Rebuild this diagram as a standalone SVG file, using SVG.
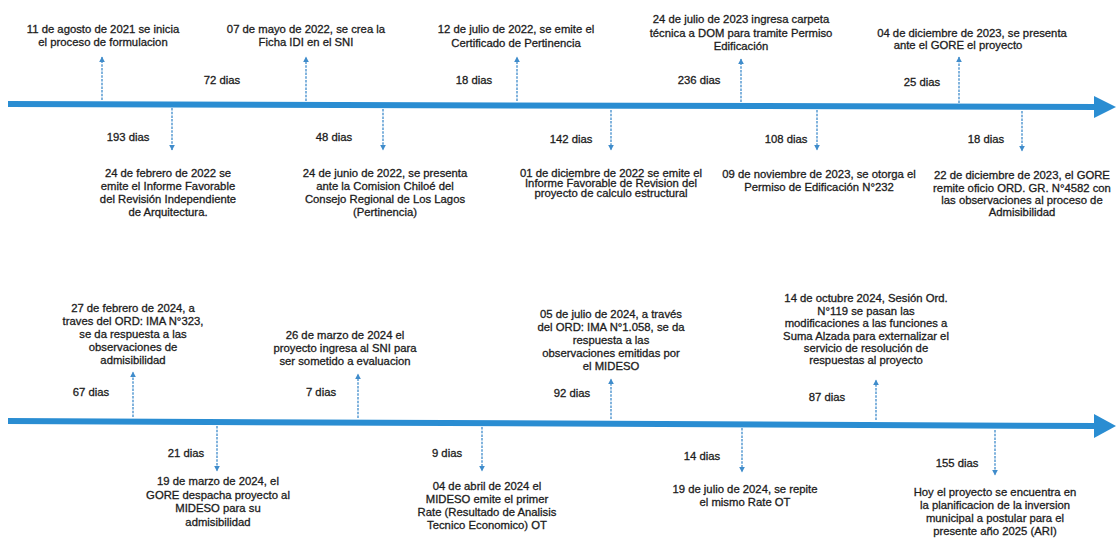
<svg xmlns="http://www.w3.org/2000/svg" width="1117" height="538" viewBox="0 0 1117 538">
<style>
  .t { font-family: "Liberation Sans", Arial, sans-serif; font-size: 11.3px; fill: #1c1c1c; stroke: #1c1c1c; stroke-width: 0.3; text-anchor: middle; }
  .d { font-family: "Liberation Sans", Arial, sans-serif; font-size: 11.3px; fill: #1c1c1c; stroke: #1c1c1c; stroke-width: 0.3; text-anchor: middle; }
  .axis { stroke: #2a8dd2; stroke-width: 6; fill: none; }
  .head { fill: #2a8dd2; }
  .c { stroke: #3f8ccb; stroke-width: 1.3; stroke-dasharray: 2.5 1.2; fill: none; marker-end: url(#ah); }
</style>
<defs>
  <marker id="ah" viewBox="0 0 10 10" refX="9" refY="5" markerWidth="6" markerHeight="7" markerUnits="userSpaceOnUse" orient="auto">
    <path d="M0,0 L10,5 L0,10 Z" fill="#3f8ccb"/>
  </marker>
</defs>
<rect width="1117" height="538" fill="#ffffff"/>

<g id="timeline-1">
  <path class="axis" d="M8,104 L1097,107"/>
  <polygon class="head" points="1094,96 1116,107 1094,118"/>
</g>
<g id="timeline-2">
  <path class="axis" d="M8,421 L1097,426"/>
  <polygon class="head" points="1094,414 1116,426 1094,438"/>
</g>

<g id="connectors">
  <line class="c" x1="102" y1="100" x2="102" y2="57"/>
  <line class="c" x1="306" y1="101" x2="306" y2="57"/>
  <line class="c" x1="517" y1="101" x2="517" y2="57"/>
  <line class="c" x1="741" y1="102" x2="741" y2="59"/>
  <line class="c" x1="959" y1="103" x2="959" y2="57"/>
  <line class="c" x1="172" y1="108" x2="172" y2="150"/>
  <line class="c" x1="383" y1="109" x2="383" y2="150"/>
  <line class="c" x1="611" y1="110" x2="611" y2="150"/>
  <line class="c" x1="817" y1="110" x2="817" y2="150"/>
  <line class="c" x1="1022" y1="111" x2="1022" y2="151"/>
  <line class="c" x1="133" y1="417" x2="133" y2="372"/>
  <line class="c" x1="358" y1="418" x2="358" y2="374"/>
  <line class="c" x1="611" y1="419" x2="611" y2="379"/>
  <line class="c" x1="876" y1="420" x2="876" y2="380"/>
  <line class="c" x1="217" y1="426" x2="217" y2="471"/>
  <line class="c" x1="482" y1="427" x2="482" y2="471"/>
  <line class="c" x1="742" y1="428" x2="742" y2="472"/>
  <line class="c" x1="995" y1="430" x2="995" y2="475"/>
</g>

<g id="durations">
  <text class="d" x="222" y="84">72 dias</text>
  <text class="d" x="474" y="84">18 dias</text>
  <text class="d" x="699" y="84">236 dias</text>
  <text class="d" x="922" y="86">25 dias</text>
  <text class="d" x="128" y="141">193 dias</text>
  <text class="d" x="334" y="141">48 dias</text>
  <text class="d" x="571" y="143">142 dias</text>
  <text class="d" x="786" y="143">108 dias</text>
  <text class="d" x="986" y="143">18 dias</text>
  <text class="d" x="91" y="396">67 dias</text>
  <text class="d" x="321" y="396">7 dias</text>
  <text class="d" x="572" y="397">92 dias</text>
  <text class="d" x="827" y="401">87 dias</text>
  <text class="d" x="186" y="457">21 dias</text>
  <text class="d" x="447" y="457">9 dias</text>
  <text class="d" x="702" y="460">14 dias</text>
  <text class="d" x="957" y="467">155 dias</text>
</g>

<g id="ev-2021-08-11">
  <text class="t" x="103" y="33">11 de agosto de 2021 se inicia</text>
  <text class="t" x="103" y="46">el proceso de formulacion</text>
</g>
<g id="ev-2022-05-07">
  <text class="t" x="306" y="33">07 de mayo de 2022, se crea la</text>
  <text class="t" x="306" y="46">Ficha IDI en el SNI</text>
</g>
<g id="ev-2022-07-12">
  <text class="t" x="516" y="33">12 de julio de 2022, se emite el</text>
  <text class="t" x="516" y="47">Certificado de Pertinencia</text>
</g>
<g id="ev-2023-07-24">
  <text class="t" x="741" y="23">24 de julio de 2023 ingresa carpeta</text>
  <text class="t" x="741" y="37">técnica a DOM para tramite Permiso</text>
  <text class="t" x="741" y="50">Edificación</text>
</g>
<g id="ev-2023-12-04">
  <text class="t" x="972" y="37">04 de diciembre de 2023, se presenta</text>
  <text class="t" x="958" y="49">ante el GORE el proyecto</text>
</g>

<g id="ev-2022-02-24">
  <text class="t" x="168" y="177">24 de febrero de 2022 se</text>
  <text class="t" x="168" y="190">emite el Informe Favorable</text>
  <text class="t" x="168" y="203">del Revisión Independiente</text>
  <text class="t" x="168" y="216">de Arquitectura.</text>
</g>
<g id="ev-2022-06-24">
  <text class="t" x="385" y="177">24 de junio de 2022, se presenta</text>
  <text class="t" x="385" y="190">ante la Comision Chiloé del</text>
  <text class="t" x="385" y="203">Consejo Regional de Los Lagos</text>
  <text class="t" x="385" y="216">(Pertinencia)</text>
</g>
<g id="ev-2022-12-01">
  <text class="t" x="611" y="177">01 de diciembre de 2022 se emite el</text>
  <text class="t" x="611" y="187">Informe Favorable de Revision del</text>
  <text class="t" x="611" y="197">proyecto de calculo estructural</text>
</g>
<g id="ev-2023-11-09">
  <text class="t" x="819" y="178">09 de noviembre de 2023, se otorga el</text>
  <text class="t" x="819" y="191">Permiso de Edificación N°232</text>
</g>
<g id="ev-2023-12-22">
  <text class="t" x="1022" y="179">22 de diciembre de 2023, el GORE</text>
  <text class="t" x="1022" y="192">remite oficio ORD. GR. N°4582 con</text>
  <text class="t" x="1022" y="204">las observaciones al proceso de</text>
  <text class="t" x="1022" y="216">Admisibilidad</text>
</g>

<g id="ev-2024-02-27">
  <text class="t" x="133" y="312">27 de febrero de 2024, a</text>
  <text class="t" x="133" y="325">traves del ORD: IMA N°323,</text>
  <text class="t" x="133" y="338">se da respuesta a las</text>
  <text class="t" x="133" y="351">observaciones de</text>
  <text class="t" x="133" y="364">admisibilidad</text>
</g>
<g id="ev-2024-03-26">
  <text class="t" x="345" y="339">26 de marzo de 2024 el</text>
  <text class="t" x="345" y="352">proyecto ingresa al SNI para</text>
  <text class="t" x="345" y="365">ser sometido a evaluacion</text>
</g>
<g id="ev-2024-07-05">
  <text class="t" x="611" y="318">05 de julio de 2024, a través</text>
  <text class="t" x="611" y="331">del ORD: IMA N°1.058, se da</text>
  <text class="t" x="611" y="344">respuesta a las</text>
  <text class="t" x="611" y="357">observaciones emitidas por</text>
  <text class="t" x="611" y="370">el MIDESO</text>
</g>
<g id="ev-2024-10-14">
  <text class="t" x="866" y="302">14 de octubre 2024, Sesión Ord.</text>
  <text class="t" x="866" y="315">N°119 se pasan las</text>
  <text class="t" x="866" y="327">modificaciones a las funciones a</text>
  <text class="t" x="866" y="340">Suma Alzada para externalizar el</text>
  <text class="t" x="866" y="352">servicio de resolución de</text>
  <text class="t" x="866" y="364">respuestas al proyecto</text>
</g>

<g id="ev-2024-03-19">
  <text class="t" x="218" y="485">19 de marzo de 2024, el</text>
  <text class="t" x="218" y="499">GORE despacha proyecto al</text>
  <text class="t" x="218" y="512">MIDESO para su</text>
  <text class="t" x="218" y="526">admisibilidad</text>
</g>
<g id="ev-2024-04-04">
  <text class="t" x="487" y="490">04 de abril de 2024 el</text>
  <text class="t" x="487" y="503">MIDESO emite el primer</text>
  <text class="t" x="487" y="516">Rate (Resultado de Analisis</text>
  <text class="t" x="487" y="529">Tecnico Economico) OT</text>
</g>
<g id="ev-2024-07-19">
  <text class="t" x="745" y="493">19 de julio de 2024, se repite</text>
  <text class="t" x="745" y="506">el mismo Rate OT</text>
</g>
<g id="ev-2025">
  <text class="t" x="995" y="496">Hoy el proyecto se encuentra en</text>
  <text class="t" x="995" y="509">la planificacion de la inversion</text>
  <text class="t" x="995" y="522">municipal a postular para el</text>
  <text class="t" x="995" y="535">presente año 2025 (ARI)</text>
</g>
</svg>
